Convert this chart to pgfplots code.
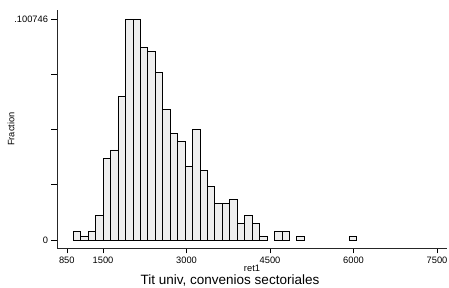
\documentclass[border=0pt]{standalone}
\usepackage{fontspec}
\setmainfont{Liberation Sans}
\usepackage{pgfplots}
\pgfplotsset{compat=1.18}
\definecolor{barfill}{HTML}{EEEEEE}
\begin{document}
\begin{tikzpicture}[x=1pt,y=1pt]
\path[use as bounding box] (0,0) rectangle (449,288);
\begin{axis}[
  at={(57pt,40pt)}, anchor=south west,
  scale only axis, width=390pt, height=238pt,
  xmin=673.6, xmax=7679.6, ymin=-0.003647, ymax=0.104849,
  axis x line*=bottom, axis y line*=left,
  axis line style={line width=0.8pt, -, black!85},
  xtick={850,1500,3000,4500,6000,7500},
  xticklabels={850,1500,3000,4500,6000,7500},
  ytick={0,0.0251865,0.050373,0.0755595,0.100746},
  yticklabels={0,,,,.100746},
  tick align=outside, major tick length=5.5pt,
  tick style={line width=0.6pt, black},
  /pgf/number format/assume math mode=true,
  ticklabel style={font=\fontsize{9.3}{10}\selectfont},
  xlabel={ret1}, ylabel={Fraction},
  label style={font=\fontsize{9.3}{10}\selectfont},
  xlabel style={at={(axis description cs:0.5,-0.084)}, anchor=center},
  ylabel style={at={(axis description cs:-0.118,0.5)}, anchor=center},
]
\addplot[ybar, bar width=133.8, bar shift=0pt, fill=barfill, draw=black, line width=0.7pt] table[row sep=\\] {
x y \\
1033.4 0.0037313 \\
1167.2 0.0018657 \\
1301.0 0.0037313 \\
1434.8 0.011194 \\
1568.6 0.037313 \\
1702.4 0.041045 \\
1836.2 0.065299 \\
1970.0 0.100746 \\
2103.8 0.100746 \\
2237.6 0.087687 \\
2371.4 0.085821 \\
2505.2 0.076493 \\
2639.0 0.059701 \\
2772.8 0.048507 \\
2906.6 0.044776 \\
3040.4 0.033582 \\
3174.2 0.050373 \\
3308.0 0.031716 \\
3441.8 0.024254 \\
3575.6 0.016791 \\
3709.4 0.016791 \\
3843.2 0.018657 \\
3977.0 0.0074627 \\
4110.8 0.011194 \\
4244.6 0.0074627 \\
4378.4 0.0018657 \\
4646.0 0.0037313 \\
4779.8 0.0037313 \\
5047.4 0.0018657 \\
5984.0 0.0018657 \\
};
\end{axis}
\node[font=\fontsize{13.5}{15}\selectfont, anchor=base] at (230,3) {Tit univ, convenios sectoriales};
\end{tikzpicture}
\end{document}
